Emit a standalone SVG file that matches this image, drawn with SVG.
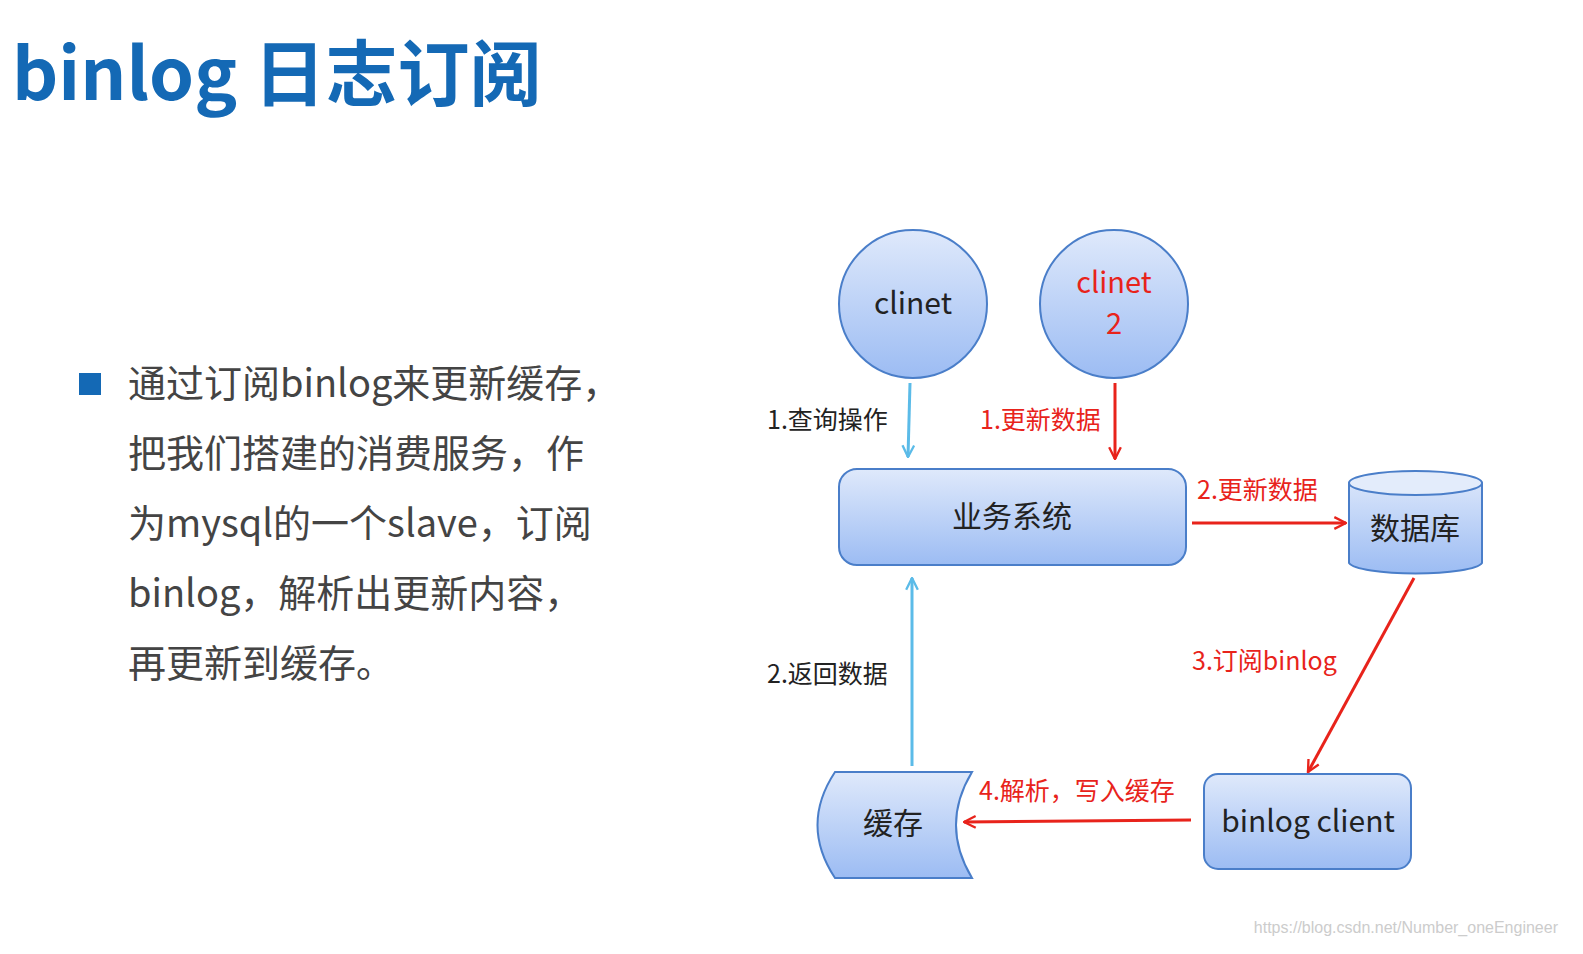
<svg xmlns="http://www.w3.org/2000/svg" width="1583" height="954" viewBox="0 0 1583 954">
<style>
text{font-family:"Noto Sans CJK SC","Noto Sans",sans-serif}
.n{fill:url(#g);stroke:#4a7ec9;stroke-width:2}
.t{font-size:30px;fill:#222;text-anchor:middle}
.l{font-size:25px}
.r{fill:#e8231b}
.b{fill:#222}
.body{font-size:38px;fill:#444}
</style>
<defs>
<linearGradient id="g" x1="0" y1="0" x2="0" y2="1"><stop offset="0" stop-color="#dfe9fb"/><stop offset="1" stop-color="#9cbcf3"/></linearGradient>
<marker id="ar" viewBox="0 0 12 12" refX="11" refY="6" markerWidth="14" markerHeight="14" markerUnits="userSpaceOnUse" orient="auto"><path d="M1,1 L11,6 L1,11" fill="none" stroke="#e8231b" stroke-width="2"/></marker>
<marker id="ab" viewBox="0 0 12 12" refX="11" refY="6" markerWidth="14" markerHeight="14" markerUnits="userSpaceOnUse" orient="auto"><path d="M1,1 L11,6 L1,11" fill="none" stroke="#5bbbe8" stroke-width="2"/></marker>
</defs>
<rect width="1583" height="954" fill="#fff"/>
<text x="12" y="100" font-size="72" font-weight="bold" fill="#1469b5">binlog 日志订阅</text>
<rect x="79" y="373" width="22" height="22" fill="#1469b5"/>
<text class="body"><tspan x="128" y="397">通过订阅binlog来更新缓存，</tspan><tspan x="128" y="467">把我们搭建的消费服务，作</tspan><tspan x="128" y="537">为mysql的一个slave，订阅</tspan><tspan x="128" y="607">binlog，解析出更新内容，</tspan><tspan x="128" y="677">再更新到缓存。</tspan></text>
<g id="c1"><circle class="n" cx="913" cy="304" r="74"/><text class="t" x="913" y="314">clinet</text></g>
<g id="c2"><circle class="n" cx="1114" cy="304" r="74"/><text class="t" x="1114" y="293" style="fill:#e8231b;font-size:29px">clinet</text><text class="t" x="1114" y="334" style="fill:#e8231b;font-size:29px">2</text></g>
<g id="biz"><rect class="n" x="839" y="469" width="347" height="96" rx="18"/><text class="t" x="1012" y="527">业务系统</text></g>
<g id="db"><path class="n" d="M1349,483 V563 A67,12 0 0 0 1482,563 V483 A67,12 0 0 0 1349,483 Z"/><ellipse cx="1415.5" cy="483" rx="66.5" ry="12" fill="#e3ecfb" stroke="#4a7ec9" stroke-width="2"/><text class="t" x="1415" y="539">数据库</text></g>
<g id="bc"><rect class="n" x="1204" y="774" width="207" height="95" rx="14"/><text class="t" x="1308" y="832">binlog client</text></g>
<g id="cache"><path class="n" d="M835,772 H972 Q940,825 972,878 H835 Q800,825 835,772 Z"/><text class="t" x="893" y="834">缓存</text></g>
<g id="conn" fill="none" stroke-width="3">
<line x1="910" y1="383" x2="908" y2="457" stroke="#5bbbe8" marker-end="url(#ab)"/>
<line x1="1115" y1="383" x2="1115" y2="459" stroke="#e8231b" marker-end="url(#ar)"/>
<line x1="1192" y1="523" x2="1346" y2="523" stroke="#e8231b" marker-end="url(#ar)"/>
<line x1="1414" y1="578" x2="1308" y2="772" stroke="#e8231b" marker-end="url(#ar)"/>
<line x1="1191" y1="820" x2="964" y2="822" stroke="#e8231b" marker-end="url(#ar)"/>
<line x1="912" y1="766" x2="912" y2="578" stroke="#5bbbe8" marker-end="url(#ab)"/>
</g>
<g id="labels" class="l">
<text x="767" y="429" class="b">1.查询操作</text>
<text x="980" y="429" class="r">1.更新数据</text>
<text x="1197" y="499" class="r">2.更新数据</text>
<text x="1192" y="670" class="r">3.订阅binlog</text>
<text x="767" y="683" class="b">2.返回数据</text>
<text x="979" y="800" class="r">4.解析，写入缓存</text>
</g>
<text x="1558" y="933" font-size="16" fill="#ccc" text-anchor="end" style="font-family:'Liberation Sans',sans-serif">https://blog.csdn.net/Number_oneEngineer</text>
</svg>
